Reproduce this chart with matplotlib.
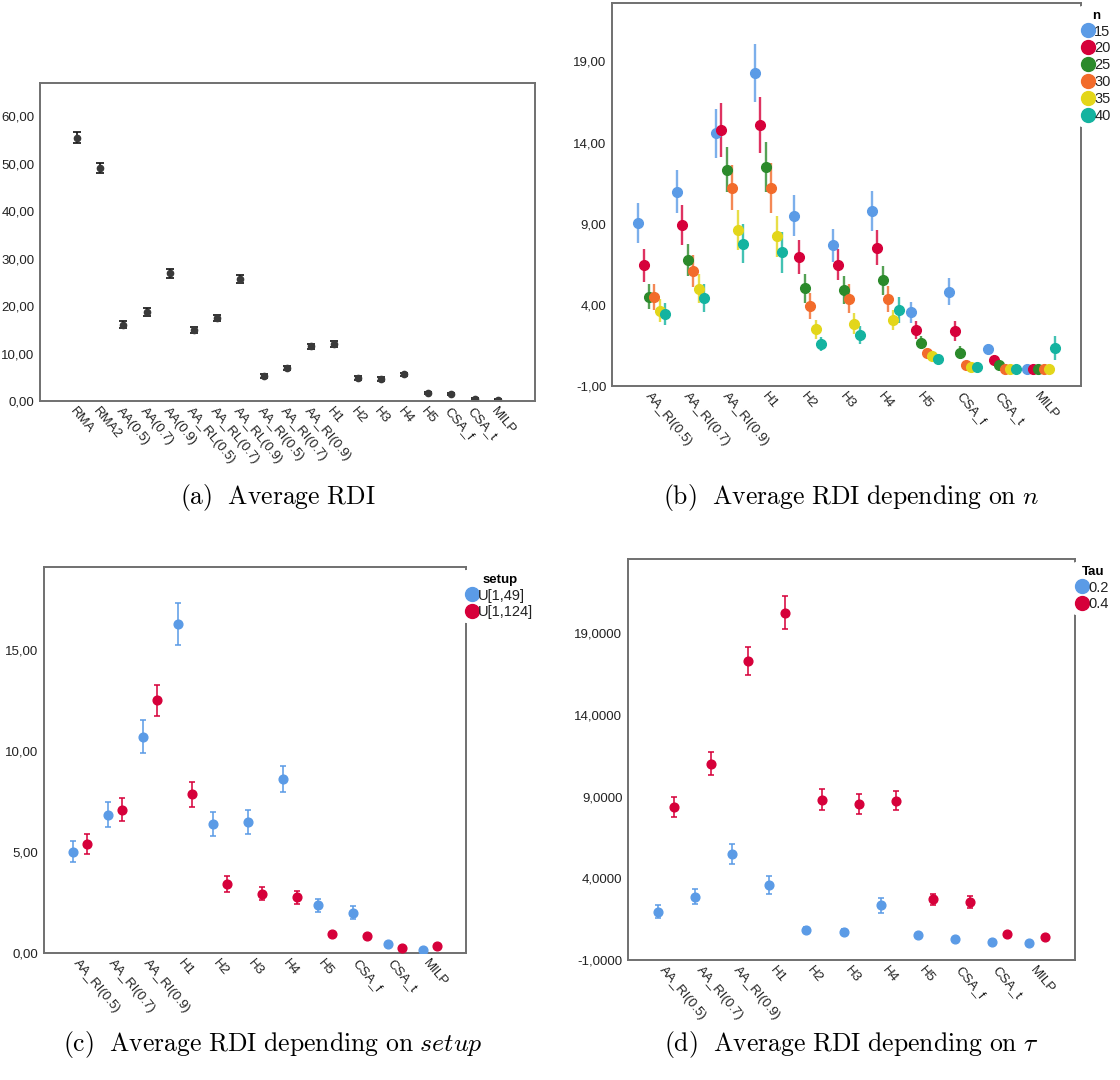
import numpy as np
import matplotlib
matplotlib.use("Agg")
import matplotlib.pyplot as plt
from matplotlib.lines import Line2D
from matplotlib.colors import to_rgba

plt.rcParams["font.family"] = ["Liberation Sans", "DejaVu Sans"]
plt.rcParams["mathtext.fontset"] = "cm"

W, H = 1120, 1080
SPINE = "#707070"
TXT = "#222222"
BLUE = "#5b9be6"
RED = "#d6003a"
GREEN = "#2b8a2b"
ORANGE = "#f26b2b"
YELLOW = "#e3d61a"
TEAL = "#14b3a0"

# ---- (a) overall averages ----
algs_all = ["RMA", "RMA2", "AA(0.5)", "AA(0.7)", "AA(0.9)", "AA_RL(0.5)", "AA_RL(0.7)",
            "AA_RL(0.9)", "AA_RI(0.5)", "AA_RI(0.7)", "AA_RI(0.9)", "H1", "H2", "H3",
            "H4", "H5", "CSA_f", "CSA_t", "MILP"]
rdi_all = [55.5, 49.1, 16.1, 18.7, 26.9, 14.9, 17.5, 25.7, 5.2, 7.0, 11.5, 12.0,
           4.9, 4.7, 5.6, 1.7, 1.5, 0.4, 0.3]
err_all = [1.1, 1.0, 0.7, 0.8, 0.9, 0.6, 0.7, 0.9, 0.4, 0.45, 0.5, 0.6,
           0.4, 0.4, 0.4, 0.25, 0.2, 0.15, 0.15]

# ---- shared categories for (b), (c), (d) ----
algs = ["AA_RI(0.5)", "AA_RI(0.7)", "AA_RI(0.9)", "H1", "H2", "H3", "H4", "H5",
        "CSA_f", "CSA_t", "MILP"]

# ---- (b) by n ----
n_levels = ["15", "20", "25", "30", "35", "40"]
rdi_n15 = [9.04, 10.96, 14.57, 18.26, 9.49, 7.66, 9.78, 3.55, 4.82, 1.29, 0.06]
rdi_n20 = [6.43, 8.92, 14.77, 15.08, 6.94, 6.47, 7.53, 2.45, 2.39, 0.59, 0.06]
rdi_n25 = [4.49, 6.76, 12.34, 12.51, 5.02, 4.94, 5.51, 1.67, 1.06, 0.29, 0.06]
rdi_n30 = [4.49, 6.06, 11.23, 11.19, 3.94, 4.39, 4.35, 1.04, 0.29, 0.06, 0.06]
rdi_n35 = [3.63, 5.00, 8.63, 8.22, 2.49, 2.84, 3.06, 0.84, 0.14, 0.06, 0.06]
rdi_n40 = [3.43, 4.41, 7.78, 7.23, 1.59, 2.14, 3.69, 0.69, 0.14, 0.06, 1.35]
err_n15 = [1.23, 1.32, 1.50, 1.79, 1.26, 1.00, 1.22, 0.64, 0.84, 0.30, 0.04]
err_n20 = [1.04, 1.26, 1.65, 1.75, 1.05, 0.95, 1.10, 0.57, 0.59, 0.12, 0.04]
err_n25 = [0.77, 0.97, 1.39, 1.55, 0.88, 0.86, 0.88, 0.41, 0.38, 0.08, 0.04]
err_n30 = [0.80, 0.99, 1.41, 1.53, 0.80, 0.89, 0.79, 0.25, 0.10, 0.04, 0.04]
err_n35 = [0.71, 0.90, 1.24, 1.25, 0.58, 0.65, 0.61, 0.20, 0.08, 0.04, 0.04]
err_n40 = [0.66, 0.85, 1.20, 1.25, 0.41, 0.53, 0.79, 0.15, 0.08, 0.04, 0.72]

# ---- (c) by setup ----
setups = ["U[1,49]", "U[1,124]"]
rdi_u49 = [5.02, 6.85, 10.70, 16.29, 6.37, 6.47, 8.61, 2.36, 2.00, 0.45, 0.13]
rdi_u124 = [5.40, 7.10, 12.50, 7.85, 3.40, 2.94, 2.76, 0.96, 0.84, 0.25, 0.33]
err_u49 = [0.53, 0.64, 0.81, 1.04, 0.60, 0.59, 0.65, 0.32, 0.32, 0.05, 0.05]
err_u124 = [0.50, 0.59, 0.77, 0.62, 0.39, 0.34, 0.32, 0.08, 0.08, 0.05, 0.10]

# ---- (d) by tau ----
taus = ["0.2", "0.4"]
rdi_t02 = [1.96, 2.87, 5.49, 3.58, 0.83, 0.74, 2.35, 0.56, 0.30, 0.08, 0.05]
rdi_t04 = [8.35, 11.01, 17.31, 20.26, 8.82, 8.53, 8.76, 2.71, 2.53, 0.60, 0.38]
err_t02 = [0.39, 0.45, 0.63, 0.56, 0.18, 0.18, 0.47, 0.10, 0.05, 0.04, 0.04]
err_t04 = [0.61, 0.70, 0.86, 1.02, 0.65, 0.61, 0.59, 0.32, 0.37, 0.05, 0.05]


def box(l, t, r, b):
    return [l / W, 1 - b / H, (r - l) / W, (b - t) / H]


def style_axes(ax, labels, yticks, fmt, xlim, ylim):
    ax.set_xlim(*xlim)
    ax.set_ylim(*ylim)
    ax.set_xticks(np.arange(len(labels)))
    ax.set_xticklabels(labels, rotation=-50, ha="left", va="top",
                       rotation_mode="anchor", fontsize=9.5, color=TXT)
    ax.set_yticks(yticks)
    ax.set_yticklabels([fmt.format(v).replace(".", ",") for v in yticks],
                       fontsize=9.5, color=TXT)
    ax.tick_params(length=0, pad=4)
    ax.tick_params(axis="x", pad=3)
    for s in ax.spines.values():
        s.set_color(SPINE)
        s.set_linewidth(1.4)


def add_legend(fig, title, names, colors, x, y):
    handles = [Line2D([], [], ls="", marker="o", markersize=10, color=c) for c in colors]
    leg = fig.legend(handles, names, title=title, loc="upper left",
                     bbox_to_anchor=(x / W, 1 - y / H), frameon=True,
                     facecolor="white", edgecolor="none", framealpha=1,
                     handlelength=0.7, handletextpad=0.1, labelspacing=0.2,
                     borderpad=0.25, borderaxespad=0, fontsize=10.5,
                     title_fontproperties={"weight": "bold", "size": 9.5})
    leg.set_zorder(10)
    for t in leg.get_texts():
        t.set_color(TXT)
    return leg


def grouped(ax, series, errs, colors, step, cap, ms, elw):
    k = len(series)
    x = np.arange(len(series[0]))
    for i, (vals, e, c) in enumerate(zip(series, errs, colors)):
        xi = x + (i - (k - 1) / 2) * step
        ax.errorbar(xi, vals, yerr=e, fmt="none", ecolor=to_rgba(c, 0.8),
                    elinewidth=elw, capsize=cap, capthick=elw, zorder=2)
        ax.plot(xi, vals, ls="", marker="o", markersize=ms, color=c, zorder=3)


fig = plt.figure(figsize=(W / 100, H / 100), dpi=100)

# (a)
ax_a = fig.add_axes(box(40, 83, 535, 401))
xa = np.arange(len(algs_all))
ax_a.errorbar(xa, rdi_all, yerr=err_all, fmt="o", color="#3a3a3a", markersize=4.5,
              ecolor="#111111", elinewidth=1.2, capsize=3, capthick=1.2)
style_axes(ax_a, algs_all, [0, 10, 20, 30, 40, 50, 60], "{:.2f}",
           (-1.56, 19.58), (0, 67))

# (b)
ax_b = fig.add_axes(box(612, 3, 1081, 386))
cols_n = [BLUE, RED, GREEN, ORANGE, YELLOW, TEAL]
grouped(ax_b, [rdi_n15, rdi_n20, rdi_n25, rdi_n30, rdi_n35, rdi_n40],
        [err_n15, err_n20, err_n25, err_n30, err_n35, err_n40],
        cols_n, 0.14, 0, 7, 1.7)
style_axes(ax_b, algs, [-1, 4, 9, 14, 19], "{:.2f}", (-1.02, 11.03), (-1, 22.6))
add_legend(fig, "n", n_levels, cols_n, 1079, 6)

# (c)
ax_c = fig.add_axes(box(44, 567, 466, 953))
grouped(ax_c, [rdi_u49, rdi_u124], [err_u49, err_u124], [BLUE, RED],
        0.4, 2.5, 6.3, 1.4)
style_axes(ax_c, algs, [0, 5, 10, 15], "{:.2f}", (-1.02, 11.03), (0, 19.1))
add_legend(fig, "setup", setups, [BLUE, RED], 463, 570)

# (d)
ax_d = fig.add_axes(box(628, 559, 1075, 960))
grouped(ax_d, [rdi_t02, rdi_t04], [err_t02, err_t04], [BLUE, RED],
        0.42, 2.5, 6.3, 1.4)
style_axes(ax_d, algs, [-1, 4, 9, 14, 19], "{:.4f}", (-1.02, 11.03), (-1, 23.55))
add_legend(fig, "Tau", taus, [BLUE, RED], 1073, 562)

# captions
cap_kw = dict(ha="left", va="center", fontsize=18.5, color="black")
fig.text(180 / W, 1 - 497 / H, r"$\mathrm{(a)\ \ Average\ RDI}$", **cap_kw)
fig.text(663 / W, 1 - 497 / H, r"$\mathrm{(b)\ \ Average\ RDI\ depending\ on\ }n$", **cap_kw)
fig.text(63 / W, 1 - 1044 / H, r"$\mathrm{(c)\ \ Average\ RDI\ depending\ on\ }\mathit{setup}$", **cap_kw)
fig.text(664 / W, 1 - 1044 / H, r"$\mathrm{(d)\ \ Average\ RDI\ depending\ on\ }\tau$", **cap_kw)

fig.savefig("out.png", dpi=100, facecolor="white")
